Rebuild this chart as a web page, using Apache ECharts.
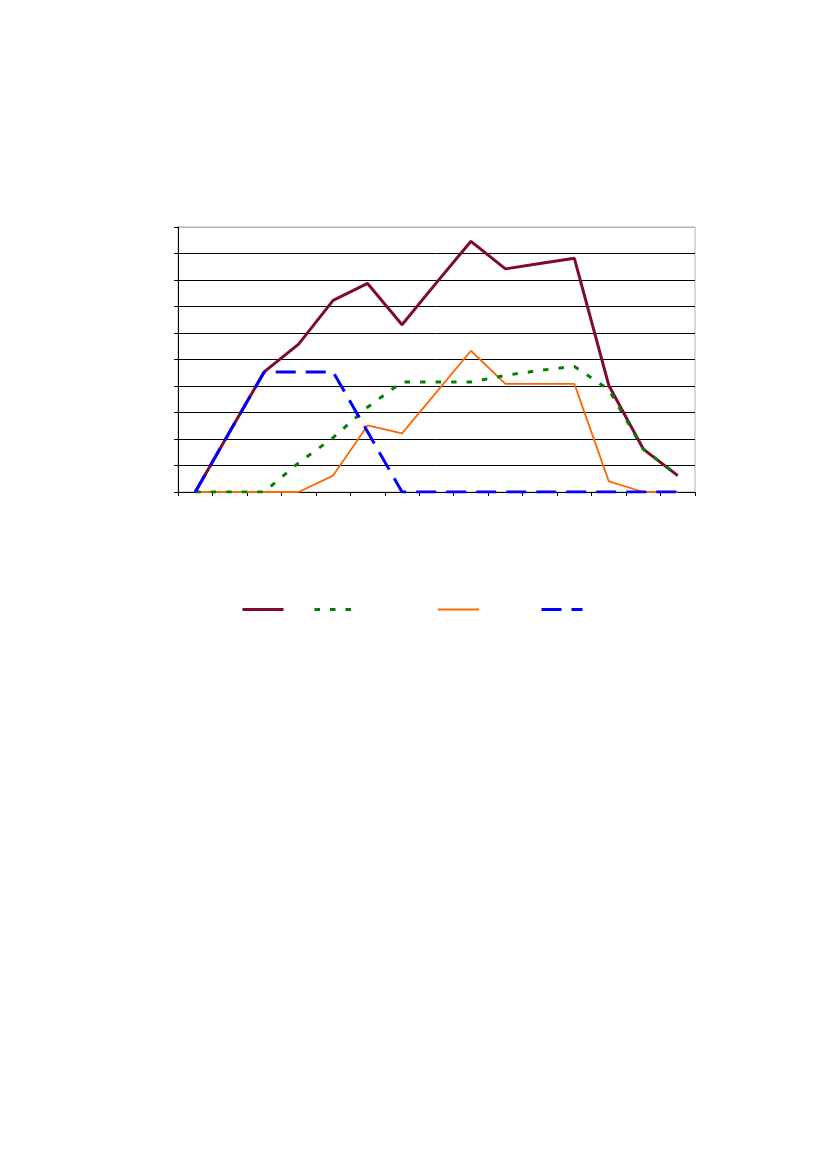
<!DOCTYPE html>
<html><head><meta charset="utf-8">
<script src="https://cdn.jsdelivr.net/npm/echarts@6/dist/echarts.min.js"></script>
<style>html,body{margin:0;padding:0;background:#fff}#c{width:827px;height:1169px}</style>
</head><body><div id="c"></div>
<script>
var categories = ['1','2','3','4','5','6','7','8','9','10','11','12','13','14','15'];
var seriesNames = ['Series 1','Series 2','Series 3','Series 4'];
var redValues    = [0, 2.27, 4.53, 5.58, 7.23, 7.87, 6.31, 7.9, 9.46, 8.42, 8.62, 8.82, 4.02, 1.62, 0.62];
var greenValues  = [0, 0, 0, 1.1, 2.05, 3.2, 4.15, 4.15, 4.15, 4.4, 4.59, 4.74, 3.86, 1.62, 0.62];
var orangeValues = [0, 0, 0, 0, 0.62, 2.51, 2.21, 3.77, 5.33, 4.08, 4.08, 4.08, 0.4, 0, 0];
var blueValues   = [0, 2.27, 4.53, 4.53, 4.53, 2.27, 0, 0, 0, 0, 0, 0, 0, 0, 0];

var splitColors = ['#000','#000','#000','#000','#000','#000','#000','#000','#000','#000','#b3b3b3'];

function leg(name, left, w){
  return {data:[name], left:left, top:602.5, itemWidth:41, itemHeight:14,
    formatter:function(){return '';}, selectedMode:false, padding:0, itemGap:0,
    itemStyle:{opacity:0, color:'transparent', borderColor:'transparent', borderWidth:0},
    lineStyle:{width:w}};
}

var chart = echarts.init(document.getElementById('c'), null, {renderer:'canvas'});
chart.setOption({
  animation:false,
  backgroundColor:'#fff',
  grid:{left:178, right:132, top:227, bottom:677, show:true, borderColor:'#b3b3b3', borderWidth:1, backgroundColor:'transparent'},
  legend:[leg(seriesNames[0],241,3), leg(seriesNames[1],313,3), leg(seriesNames[2],437,2), leg(seriesNames[3],540,3)],
  xAxis:{type:'category', data:categories, boundaryGap:true,
    axisLine:{lineStyle:{color:'#000', width:1}},
    axisTick:{show:true, length:4, lineStyle:{color:'#000'}},
    axisLabel:{show:false}, splitLine:{show:false}},
  yAxis:{type:'value', min:0, max:10, interval:1,
    axisLine:{show:true, lineStyle:{color:'#000', width:1}},
    axisTick:{show:true, length:4, lineStyle:{color:'#000'}},
    axisLabel:{show:false},
    splitLine:{show:true, lineStyle:{color:splitColors, width:1}}},
  series:[
    {name:seriesNames[0], type:'line', data:redValues, symbol:'none', z:4,
      lineStyle:{color:'#7f0a2a', width:3}, itemStyle:{color:'#7f0a2a'}},
    {name:seriesNames[1], type:'line', data:greenValues, symbol:'none', z:5,
      lineStyle:{color:'#008000', width:3, type:[5.5,10]}, itemStyle:{color:'#008000'}},
    {name:seriesNames[2], type:'line', data:orangeValues, symbol:'none', z:3,
      lineStyle:{color:'#ff6600', width:1.8}, itemStyle:{color:'#ff6600'}},
    {name:seriesNames[3], type:'line', data:blueValues, symbol:'none', z:6,
      lineStyle:{color:'#0000ff', width:3, type:[20,10]}, itemStyle:{color:'#0000ff'}}
  ]
});
</script>
</body></html>
